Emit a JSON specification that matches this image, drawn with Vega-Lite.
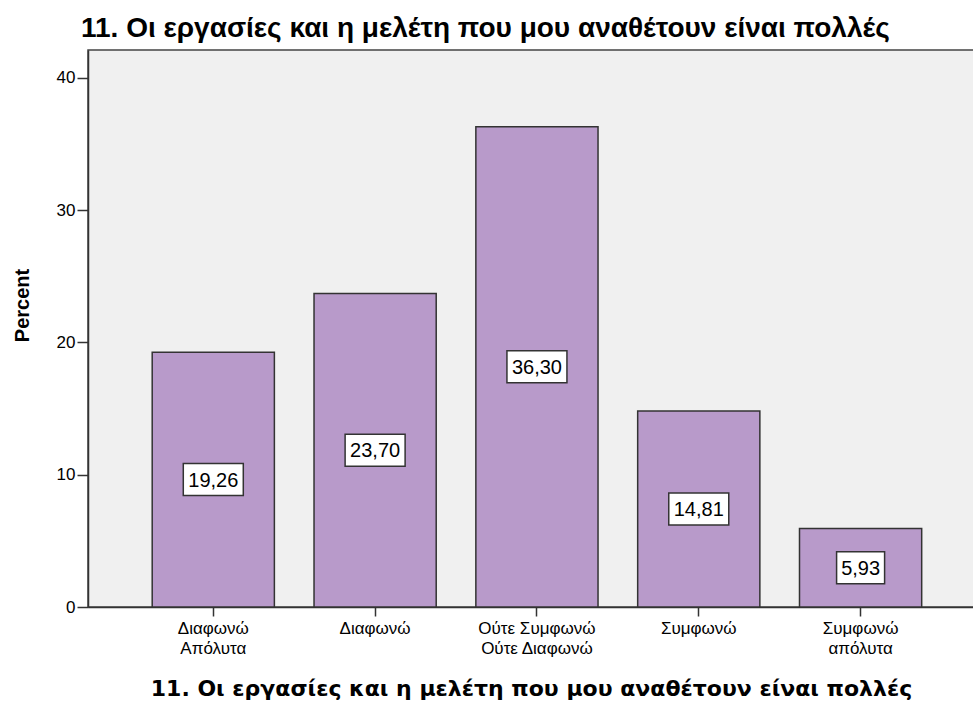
{
  "$schema": "https://vega.github.io/schema/vega-lite/v6.json",
  "autosize": "none",
  "width": 886,
  "height": 557,
  "padding": {"left": 88, "top": 50, "right": 0, "bottom": 100},
  "background": "white",
  "title": {
    "text": "11. Οι εργασίες και η μελέτη που μου αναθέτουν είναι πολλές",
    "anchor": "start",
    "frame": "group",
    "dx": -7,
    "offset": 7,
    "font": "Liberation Sans",
    "fontSize": 28,
    "fontWeight": "bold",
    "color": "black"
  },
  "config": {
    "locale": {"number": {"decimal": ",", "thousands": ".", "grouping": [3], "currency": ["", " €"]}},
    "view": {"fill": "#F0F0F0", "stroke": "#444", "strokeWidth": 1.5}
  },
  "data": {
    "values": [
      {"category": "Διαφωνώ\nΑπόλυτα", "percent": 19.26},
      {"category": "Διαφωνώ", "percent": 23.70},
      {"category": "Ούτε Συμφωνώ\nΟύτε Διαφωνώ", "percent": 36.30},
      {"category": "Συμφωνώ", "percent": 14.81},
      {"category": "Συμφωνώ\nαπόλυτα", "percent": 5.93}
    ]
  },
  "encoding": {
    "x": {
      "field": "category",
      "type": "nominal",
      "sort": null,
      "scale": {"paddingInner": 0.245, "paddingOuter": 0.36, "align": 0.551},
      "axis": {
        "title": "11. Οι εργασίες και η μελέτη που μου αναθέτουν είναι πολλές",
        "titleFont": "DejaVu Sans",
        "titleFontSize": 22,
        "titleFontWeight": "bold",
        "titleColor": "black",
        "titlePadding": 22,
        "labelExpr": "split(datum.label, '\\n')",
        "labelAngle": 0,
        "labelFont": "Liberation Sans",
        "labelFontSize": 17,
        "labelColor": "black",
        "labelPadding": 4,
        "labelLineHeight": 20,
        "tickSize": 9,
        "tickColor": "#333",
        "tickWidth": 1.5,
        "domainColor": "#333",
        "domainWidth": 1.5,
        "grid": false
      }
    },
    "y": {
      "field": "percent",
      "type": "quantitative",
      "scale": {"domain": [0, 42.1], "nice": false},
      "axis": {
        "title": "Percent",
        "titleFont": "Liberation Sans",
        "titleFontSize": 20,
        "titleFontWeight": "bold",
        "titleColor": "black",
        "titlePadding": 24,
        "titleY": 255,
        "values": [0, 10, 20, 30, 40],
        "labelFont": "Liberation Sans",
        "labelFontSize": 17,
        "labelColor": "black",
        "labelPadding": 2,
        "tickSize": 11,
        "tickColor": "#333",
        "tickWidth": 1.5,
        "domainColor": "#333",
        "domainWidth": 1.5,
        "grid": false
      }
    }
  },
  "layer": [
    {
      "mark": {"type": "bar", "fill": "#B89ACA", "stroke": "#333", "strokeWidth": 1.5}
    },
    {
      "encoding": {
        "y": {
          "field": "percent",
          "type": "quantitative",
          "scale": {"domain": [0, 84.2], "nice": false},
          "axis": null
        }
      },
      "layer": [
        {
          "mark": {"type": "tick", "orient": "horizontal", "fill": "white", "stroke": "#333", "strokeWidth": 1.5, "opacity": 1, "thickness": 32},
          "encoding": {
            "size": {"condition": {"test": "datum.percent < 10", "value": 48}, "value": 60}
          }
        },
        {
          "mark": {"type": "text", "font": "Liberation Sans", "fontSize": 20, "color": "black", "baseline": "middle", "align": "center", "dy": 1},
          "encoding": {
            "text": {"field": "percent", "type": "quantitative", "format": ".2f"}
          }
        }
      ]
    }
  ],
  "resolve": {"scale": {"y": "independent"}}
}
